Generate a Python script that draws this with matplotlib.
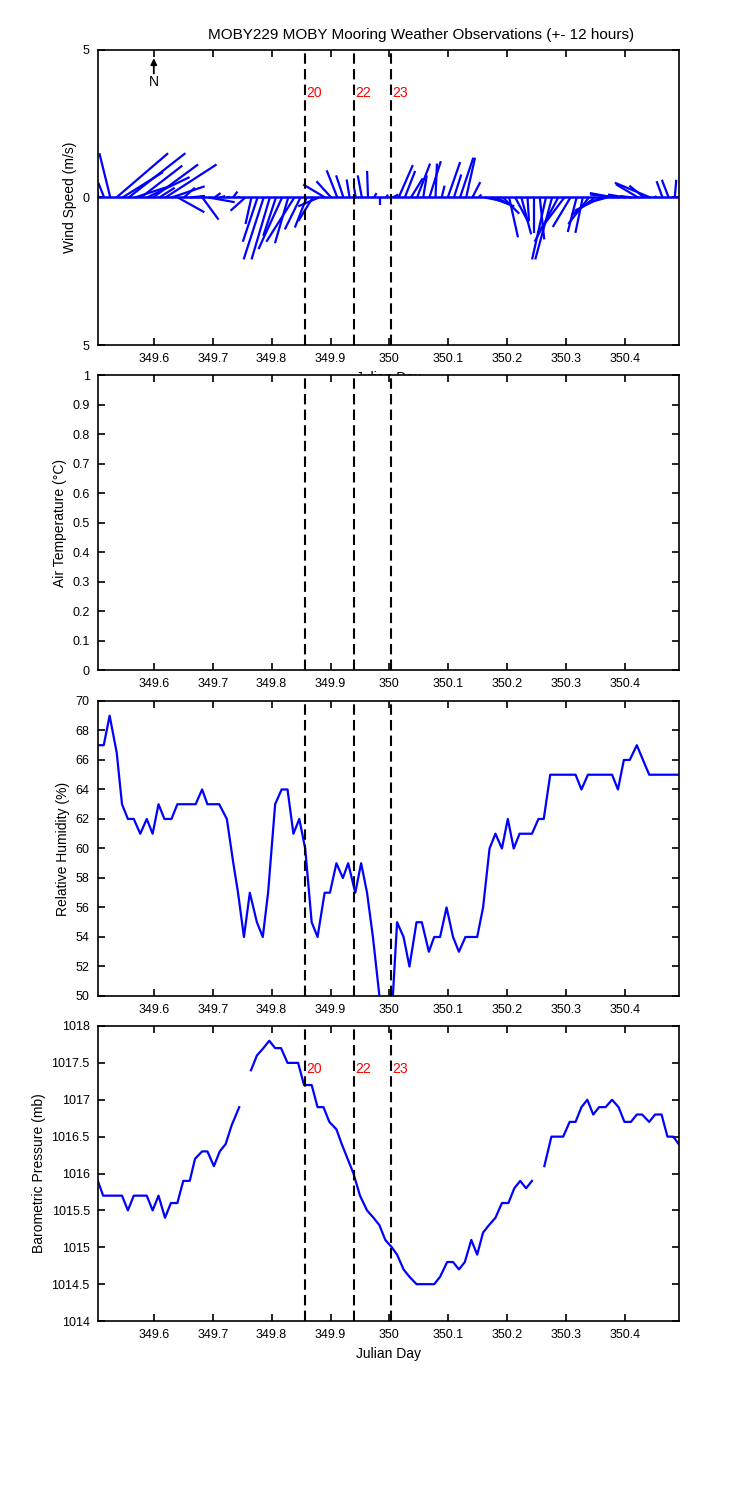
import matplotlib
matplotlib.use("Agg")
import matplotlib.pyplot as plt
import numpy as np
from matplotlib.collections import LineCollection

plt.rcParams['font.family'] = ['Liberation Sans', 'DejaVu Sans']
plt.rcParams['font.size'] = 9

# ---- data ----
xlim = (349.5053, 350.4917)
xticks = [349.6, 349.7, 349.8, 349.9, 350.0, 350.1, 350.2, 350.3, 350.4]
xticklabels = ['349.6', '349.7', '349.8', '349.9', '350', '350.1', '350.2', '350.3', '350.4']

# event markers (vertical dashed lines) and their labels
event_t = [349.857, 349.940, 350.0025]
event_lbl = ['20', '22', '23']

# wind sticks, 15-min samples starting at wind_t0 (m/s)
wind_t0 = 349.5053
wind_dt = 15.0 / 1440.0
wind_u = [0.0, -0.2, -0.37, 1.75, 1.37, 1.92, 1.18, 1.4, 1.44, 1.52,
          0.52, 1.73, 1.12, 0.9, 0.37, 0.5, 0.3, 0.55, 0.89, 0.2,
          0.15, 0.1, 0.15, 0.0, -0.5, -0.2, -0.5, -0.68, -0.62, -0.43,
          -0.8, -0.45, -0.95, -0.53, -0.4, -0.49, -0.7, -0.74, -0.5, -0.36,
          -0.25, -0.1, -0.05, -0.14, -0.03, 0.08, 0.0, 0.05, 0.2, 0.48,
          0.35, 0.4, 0.44, 0.12, 0.39, 0.05, 0.1, 0.42, 0.25, 0.45,
          0.3, 0.27, 0.1, 0.5, 0.8, 0.35, 0.55, 0.3, 0.45, 0.33,
          0.05, 0.0, 0.15, -0.47, -0.57, -0.8, -0.9, -0.6, -0.3, -0.25,
          -0.7, -0.8, -0.9, -0.55, -0.8, -1.0, -0.6, -0.4, -0.75, -0.5,
          -1.2, -0.05, -0.2, -0.23, 0.05]
wind_v = [0.2, 0.5, 1.5, 1.5, 0.86, 1.5, 0.38, 1.08, 0.69, 1.12,
          0.33, 1.12, 0.38, -0.5, 0.33, 0.05, 0.05, -0.75, -0.16, 0.15,
          0.05, 0.02, 0.2, 0.05, -0.45, -0.9, -1.5, -2.1, -2.1, -1.3,
          -1.75, -1.55, -1.5, -1.08, -1.02, -0.8, -0.3, 0.44, 0.55, 0.92,
          0.75, 0.61, 0.3, 0.75, 0.9, 0.15, -0.25, 0.1, 0.1, 1.1,
          0.9, 0.65, 1.15, 0.75, 1.23, 1.15, 0.4, 1.2, 0.78, 1.35,
          1.35, 0.52, 0.1, -0.1, -0.3, -0.2, -0.55, -1.35, -0.85, -1.25,
          -0.8, -1.2, -1.42, -2.1, -2.1, -1.5, -1.2, -1.0, -1.17, -1.2,
          -0.9, -0.6, -0.45, -0.15, 0.15, 0.1, 0.1, 0.05, 0.45, 0.4,
          0.5, 0.05, 0.55, 0.6, 0.6]

# relative humidity (%)
hum_t = [349.505, 349.515, 349.525, 349.537, 349.546, 349.556, 349.566, 349.577,
         349.588, 349.598, 349.608, 349.618, 349.630, 349.640, 349.671, 349.682,
         349.691, 349.711, 349.724, 349.735, 349.743, 349.753, 349.763, 349.775,
         349.785, 349.794, 349.806, 349.817, 349.827, 349.837, 349.847, 349.857,
         349.868, 349.878, 349.890, 349.899, 349.910, 349.921, 349.930, 349.942,
         349.952, 349.962, 349.972, 349.983, 349.993, 350.003, 350.013, 350.024,
         350.034, 350.046, 350.055, 350.067, 350.076, 350.086, 350.097, 350.108,
         350.118, 350.129, 350.149, 350.159, 350.170, 350.180, 350.191, 350.201,
         350.211, 350.221, 350.242, 350.253, 350.262, 350.273, 350.316, 350.326,
         350.337, 350.378, 350.388, 350.398, 350.408, 350.420, 350.441, 350.492]
hum_v = [67, 67, 69, 66.5, 63, 62, 62, 61,
         62, 61, 63, 62, 62, 63, 63, 64,
         63, 63, 62, 59, 57, 54, 57, 55,
         54, 57, 63, 64, 64, 61, 62, 60,
         55, 54, 57, 57, 59, 58, 59, 57,
         59, 57, 54, 50, 48, 48, 55, 54,
         52, 55, 55, 53, 54, 54, 56, 54,
         53, 54, 54, 56, 60, 61, 60, 62,
         60, 61, 61, 62, 62, 65, 65, 64,
         65, 65, 64, 66, 66, 67, 65, 65]

# barometric pressure (mb), NaN = data gap
pres_t = [349.505, 349.514, 349.546, 349.556, 349.566, 349.588, 349.598, 349.608,
          349.619, 349.629, 349.640, 349.650, 349.661, 349.670, 349.682, 349.691,
          349.702, 349.712, 349.722, 349.732, 349.745, 349.755,
          349.765, 349.775, 349.786, 349.796, 349.806, 349.816, 349.827, 349.845,
          349.855, 349.868, 349.878, 349.888, 349.898, 349.910, 349.919, 349.939,
          349.950, 349.962, 349.973, 349.983, 349.993, 350.004, 350.013, 350.024,
          350.034, 350.046, 350.076, 350.086, 350.098, 350.108, 350.118, 350.128,
          350.139, 350.149, 350.159, 350.169, 350.180, 350.191, 350.202, 350.212,
          350.222, 350.232, 350.242, 350.252,
          350.263, 350.275, 350.295, 350.306, 350.316, 350.326, 350.336, 350.346,
          350.356, 350.367, 350.378, 350.389, 350.399, 350.410, 350.420, 350.429,
          350.441, 350.451, 350.462, 350.472, 350.482, 350.491]
pres_v = [1015.9, 1015.7, 1015.7, 1015.5, 1015.7, 1015.7, 1015.5, 1015.7,
          1015.4, 1015.6, 1015.6, 1015.9, 1015.9, 1016.2, 1016.3, 1016.3,
          1016.1, 1016.3, 1016.4, 1016.65, 1016.9, np.nan,
          1017.4, 1017.6, 1017.7, 1017.8, 1017.7, 1017.7, 1017.5, 1017.5,
          1017.2, 1017.2, 1016.9, 1016.9, 1016.7, 1016.6, 1016.4, 1016.0,
          1015.7, 1015.5, 1015.4, 1015.3, 1015.1, 1015.0, 1014.9, 1014.7,
          1014.6, 1014.5, 1014.5, 1014.6, 1014.8, 1014.8, 1014.7, 1014.8,
          1015.1, 1014.9, 1015.2, 1015.3, 1015.4, 1015.6, 1015.6, 1015.8,
          1015.9, 1015.8, 1015.9, np.nan,
          1016.1, 1016.5, 1016.5, 1016.7, 1016.7, 1016.9, 1017.0, 1016.8,
          1016.9, 1016.9, 1017.0, 1016.9, 1016.7, 1016.7, 1016.8, 1016.8,
          1016.7, 1016.8, 1016.8, 1016.5, 1016.5, 1016.4]

hum_ticks = [50, 52, 54, 56, 58, 60, 62, 64, 66, 68, 70]
temp_ticks = [0, 0.1, 0.2, 0.3, 0.4, 0.5, 0.6, 0.7, 0.8, 0.9, 1]
temp_labels = ['0', '0.1', '0.2', '0.3', '0.4', '0.5', '0.6', '0.7', '0.8', '0.9', '1']
pres_ticks = [1014, 1014.5, 1015, 1015.5, 1016, 1016.5, 1017, 1017.5, 1018]
pres_labels = ['1014', '1014.5', '1015', '1015.5', '1016', '1016.5', '1017', '1017.5', '1018']

# ---- figure ----
fig = plt.figure(figsize=(7.5, 15), dpi=100)
left, width, height = 0.1307, 0.7747, 0.1967
bottoms = [0.77, 0.5533, 0.336, 0.1193]
axs = [fig.add_axes([left, b, width, height]) for b in bottoms]


def style(ax):
    ax.set_xlim(*xlim)
    ax.set_xticks(xticks)
    ax.set_xticklabels(xticklabels)
    ax.tick_params(direction='in', top=True, right=True, length=5, width=1.2,
                   labelsize=9, pad=6)
    for s in ax.spines.values():
        s.set_linewidth(1.2)
    for t in event_t:
        ax.axvline(t, color='k', lw=1.5, ls=(0, (5, 2.5)), zorder=3)


# wind stick plot
ax = axs[0]
style(ax)
ax.set_ylim(-5, 5)
ax.set_yticks([-5, 0, 5])
ax.set_yticklabels(['5', '0', '5'])
ax.set_ylabel('Wind Speed (m/s)', fontsize=10)
ax.set_xlabel('Julian Day', fontsize=10)
# keep stick directions true on screen: days per (m/s)
bbox = ax.get_position()
k = (xlim[1] - xlim[0]) / (bbox.width * 7.5) * (bbox.height * 15) / 10.0
wt = wind_t0 + wind_dt * np.arange(len(wind_u))
segs = [[(t, 0), (t + u * k, v)] for t, u, v in zip(wt, wind_u, wind_v)]
ax.add_collection(LineCollection(segs, colors='b', linewidths=1.6))
ax.axhline(0, color='b', lw=1.8)
ax.annotate('', xy=(349.6, 4.72), xytext=(349.6, 4.2),
            arrowprops=dict(arrowstyle='-|>', color='k', lw=1.3, mutation_scale=9,
                            shrinkA=0, shrinkB=0))
ax.text(349.6, 3.9, 'N', ha='center', va='center', fontsize=10)
for t, s in zip(event_t, event_lbl):
    ax.text(t + 0.002, 3.55, s, color='r', fontsize=10, ha='left', va='center')

# air temperature (no data)
ax = axs[1]
style(ax)
ax.set_ylim(0, 1)
ax.set_yticks(temp_ticks)
ax.set_yticklabels(temp_labels)
ax.set_ylabel('Air Temperature (\u00b0C)', fontsize=10)

# relative humidity
ax = axs[2]
style(ax)
ax.plot(hum_t, hum_v, color='b', lw=1.6)
ax.set_ylim(50, 70)
ax.set_yticks(hum_ticks)
ax.set_ylabel('Relative Humidity (%)', fontsize=10)

# barometric pressure
ax = axs[3]
style(ax)
ax.plot(pres_t, pres_v, color='b', lw=1.6)
ax.set_ylim(1014, 1018)
ax.set_yticks(pres_ticks)
ax.set_yticklabels(pres_labels)
ax.set_ylabel('Barometric Pressure (mb)', fontsize=10)
ax.set_xlabel('Julian Day', fontsize=10)
for t, s in zip(event_t, event_lbl):
    ax.text(t + 0.002, 1017.42, s, color='r', fontsize=10, ha='left', va='center')

fig.text(0.562, 0.977, 'MOBY229 MOBY Mooring Weather Observations (+- 12 hours)',
         ha='center', va='center', fontsize=11)

fig.savefig('out.png', dpi=100)
